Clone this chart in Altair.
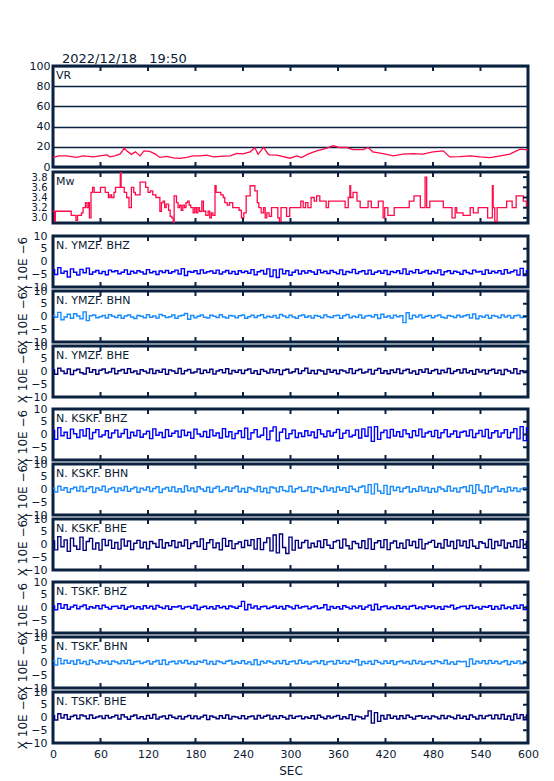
import altair as alt
import pandas as pd

FONT = "DejaVu Sans"
FRAME = "#0b2140"
TEXT = "#0b1a33"
RED = "#ff0a4a"
COL_Z = "#0000ff"
COL_N = "#1a8cff"
COL_E = "#000080"
W = 475

X_TICKS_ALL = [0, 60, 120, 180, 240, 300, 360, 420, 480, 540, 600]
X_TICKS_IN = [60, 120, 180, 240, 300, 360, 420, 480, 540]

VR_T = [0, 7, 17, 30, 38, 51, 59, 68, 72, 78, 85, 90, 93, 99, 104, 110, 115, 122, 129, 135,
        144, 152, 160, 169, 177, 186, 194, 203, 211, 224, 232, 240, 249, 255, 259, 266, 272,
        274, 283, 287, 299, 308, 314, 322, 333, 344, 354, 362, 371, 379, 392, 398, 404, 417,
        430, 442, 455, 467, 480, 493, 501, 514, 527, 539, 552, 565, 577, 590, 600]
VR_V = [9.3, 11, 11, 9.5, 11, 10, 11, 12, 10, 11, 13, 18.7, 16, 12.5, 15, 11, 16, 15.5, 13, 9.5,
        10.5, 9, 8.5, 9.5, 11, 11, 11.7, 10, 10.5, 11, 13.5, 13, 15, 19, 12.5, 19.5, 12.5,
        12, 11.7, 11, 8.7, 11, 9.3, 12.7, 16, 18.3, 21, 19.3, 19.3, 17.3, 17.3, 19.3, 15, 13.3,
        11, 12.7, 13.3, 12.7, 15, 16, 10, 10.3, 11, 10, 9.3, 11, 12.7, 17.7, 17]

MW_T = [0, 2, 3, 23, 29, 31, 36, 38, 41, 43, 45, 46, 48, 50, 52, 58, 60, 66, 70, 72, 74, 77, 79,
        85, 86, 90, 93, 96, 99, 102, 104, 110, 117, 120, 123, 126, 130, 135, 137, 139, 141, 143,
        146, 148, 150, 152, 153, 156, 158, 160, 162, 164, 166, 168, 170, 172, 174, 177, 179, 181,
        183, 185, 188, 190, 193, 196, 198, 200, 202, 204.6, 206, 212, 215, 217, 220, 223, 227,
        232, 235, 238, 241, 244, 249, 255, 258, 260, 263, 266, 268, 270, 273, 276, 280, 284, 286,
        288, 291, 295, 299, 313, 316, 319, 322, 326, 330, 333, 337, 345, 348, 369, 373, 375, 376,
        379, 384, 388, 398, 402, 411, 417, 419, 423, 431, 450, 456, 464, 470, 472, 476, 493, 504,
        508, 510, 518, 527, 531, 537, 549, 555, 556, 558, 561, 573, 580, 585, 594, 598, 600]
MW_V = [3.13, 2.93, 3.13, 3.05, 2.95, 3.05, 3.1, 3.2, 3.3, 3.2, 3.3, 3.0, 3.5, 3.6, 3.5, 3.5, 3.6,
        3.5, 3.4, 3.45, 3.4, 3.5, 3.6, 3.9, 3.6, 3.5, 3.4, 3.2, 3.6, 3.5, 3.45, 3.7, 3.6, 3.5,
        3.53, 3.45, 3.4, 3.13, 3.3, 3.33, 3.2, 3.27, 3.15, 3.03, 3.0, 2.91, 3.43, 3.3, 3.2, 3.25,
        3.15, 3.25, 3.2, 3.3, 3.33, 3.25, 3.2, 3.1, 3.2, 3.1, 3.2, 3.13, 3.33, 3.13, 3.05, 3.13,
        3.0, 3.1, 3.05, 3.63, 3.5, 3.45, 3.4, 3.3, 3.25, 3.3, 3.2, 3.2, 3.15, 3.0, 3.1, 3.43,
        3.63, 3.53, 3.3, 3.2, 3.1, 3.2, 3.0, 3.1, 3.03, 3.2, 3.2, 3.0, 2.93, 3.2, 3.2, 3.03, 3.2,
        3.33, 3.2, 3.3, 3.2, 3.4, 3.33, 3.43, 3.33, 3.2, 3.33, 3.2, 3.4, 3.63, 3.4, 3.5, 3.33,
        3.2, 3.33, 3.2, 3.33, 3.0, 3.2, 3.05, 3.2, 3.33, 3.43, 3.2, 3.8, 3.2, 3.33, 3.2, 3.0,
        3.2, 3.1, 3.05, 3.2, 3.1, 3.2, 3.0, 3.63, 3.2, 2.93, 3.2, 3.33, 3.2, 3.43, 3.33, 3.2, 3.2]

T_SEIS = list(range(0, 601, 4))

YMZF_BHZ = [-3.2, -5.1, -2.4, -4.6, -3.8, -6.1, -2.9, -4.2, -5.3, -3.1,
            -4.4, -2.6, -5.0, -4.1, -3.5, -4.7, -3.9, -5.2, -3.4, -4.0,
            -3.6, -4.8, -4.2, -3.3, -5.0, -3.8, -4.5, -3.6, -4.1, -4.9,
            -3.2, -4.4, -3.9, -5.1, -3.7, -4.3, -3.5, -4.6, -4.0, -3.4,
            -4.9, -2.8, -5.5, -3.9, -4.2, -3.6, -4.8, -3.3, -4.5, -4.0,
            -3.7, -4.6, -3.4, -4.9, -4.1, -3.5, -4.7, -3.9, -5.0, -3.6,
            -4.3, -3.8, -4.6, -3.2, -5.2, -4.0, -3.5, -4.9, -2.9, -5.9,
            -3.3, -6.3, -3.0, -4.8, -3.6, -5.4, -4.2, -3.4, -4.9, -3.7,
            -4.5, -3.6, -4.1, -5.0, -3.3, -4.4, -3.8, -4.7, -3.5, -4.2,
            -4.8, -3.3, -5.1, -3.9, -4.3, -3.1, -4.7, -4.0, -3.6, -4.9,
            -3.4, -5.0, -4.2, -3.7, -4.6, -3.5, -5.1, -3.9, -4.3, -3.6,
            -4.7, -2.9, -5.0, -3.8, -4.4, -3.2, -4.6, -4.1, -3.5, -4.8,
            -3.9, -4.5, -3.3, -5.2, -4.0, -3.6, -4.7, -3.8, -4.2, -5.0,
            -3.5, -4.3, -4.8, -3.4, -4.1, -3.9, -5.0, -3.3, -4.6, -3.8,
            -4.4, -3.6, -4.9, -3.2, -4.5, -4.0, -3.4, -5.3, -2.7, -5.5,
            -3.6]
YMZF_BHN = [0.4, -0.3, 1.6, -1.3, -0.2, 0.9, -0.7, 1.1, 0.2, -0.9,
            1.8, -1.6, 0.3, 0.6, -0.5, -0.1, 0.4, -0.6, 0.7, 0.1,
            -0.4, 0.5, -0.7, 0.2, 0.6, -0.2, -0.8, 0.4, 0.1, -0.5,
            0.7, -0.3, 0.2, -0.6, 0.8, 0.3, -0.4, -0.1, 0.6, -0.7,
            0.2, 0.5, 1.2, -1.1, 0.4, -0.5, 0.1, 0.6, -0.3, -0.6,
            0.5, 0.1, -0.4, 0.7, -0.2, -0.6, 0.4, 0.2, -0.5, 0.3,
            0.6, -0.7, -0.1, 0.5, -0.4, 0.3, 0.7, -0.5, 0.1, -0.3,
            0.4, -0.6, 0.8, 0.2, -0.4, 0.5, -0.2, -0.7, 0.3, 0.6,
            -0.3, 0.2, -0.6, 0.4, 0.1, -0.5, 0.6, -0.1, -0.4, 0.3,
            0.5, -0.7, 0.3, 0.8, -0.5, 0.1, -0.3, 0.6, -0.6, 0.2,
            0.4, -0.2, 0.7, -0.8, 0.9, -0.3, 0.2, -0.6, 0.5, -0.1,
            0.3, -2.4, 1.5, -0.9, 0.5, -0.2, 0.6, -0.5, 0.1, 0.4,
            -0.5, 0.2, 0.6, -0.3, -0.6, 0.4, 0.1, -0.4, 0.5, -0.2,
            0.3, 0.7, -0.6, 1.0, -0.9, 0.2, -0.3, 0.5, -0.7, 0.4,
            0.1, -0.5, 0.6, -0.2, 0.4, -0.6, 0.3, 0.5, -0.4, 0.2,
            -0.2]
YMZF_BHE = [0.6, -1.1, 1.3, 0.2, -0.8, 1.0, -1.2, 0.4, 0.9, -0.5,
            -1.0, 1.4, -0.3, 0.7, -1.1, 0.5, 1.0, -0.6, -0.2, 1.2,
            -0.9, 0.3, 0.8, -0.7, 1.1, -0.4, 0.2, -1.0, 0.7, 0.1,
            -0.6, 1.0, -0.8, 0.4, -0.3, 0.9, -1.1, 0.6, 0.2, -0.7,
            1.2, -0.9, 0.3, 0.8, -0.6, -0.2, 1.0, -0.8, 0.5, -0.4,
            0.9, -1.0, 0.2, 0.7, -0.5, 1.1, -0.9, 0.4, -0.3, 0.6,
            -0.8, 0.5, 1.0, -0.7, 0.3, -1.1, 0.8, 0.1, -0.6, 0.9,
            -0.4, 0.7, -1.2, 0.5, 0.9, -0.6, -0.1, 1.0, -0.8, 0.3,
            1.3, -0.7, 0.4, -0.9, 0.6, 0.2, -1.0, 0.8, -0.3, 0.5,
            -0.9, 0.6, 0.2, -0.5, 1.1, -0.8, 0.4, 0.9, -0.6, -0.2,
            0.8, -1.0, 0.5, 1.2, -0.7, 0.3, -0.9, 0.6, -0.4, 1.0,
            -0.8, 0.4, 0.9, -0.6, 0.2, -1.1, 0.7, -0.3, 1.0, -0.7,
            0.3, 0.8, -0.9, 0.5, -0.4, 1.2, -0.8, 0.1, 0.7, -0.6,
            1.0, -0.5, 0.3, -1.1, 0.8, -0.2, 0.6, -0.9, 0.4, 0.9,
            -0.7, 0.5, -1.2, 0.8, 0.2, -0.6, 1.1, -0.9, 0.3, -0.4,
            0.2]
KSKF_BHZ = [1.6, -1.9, 2.7, -0.5, 0.9, -1.5, 2.1, 0.3, -1.2, 1.8,
            -0.6, 2.3, -1.7, 0.8, 1.9, -0.9, -0.2, 1.5, -1.3, 0.6,
            1.7, -1.0, 0.4, 2.0, -1.4, 0.9, -0.5, 1.6, -1.1, 0.2,
            1.3, -1.6, 2.2, -0.3, 0.8, -1.2, 1.9, -0.7, 0.5, 1.4,
            -1.0, 1.7, -0.4, 0.9, -1.5, 2.1, 0.2, -0.8, 1.2, -1.1,
            1.8, -0.5, 0.6, -1.4, 2.3, -0.9, 1.1, -1.6, 0.4, 1.5,
            -1.2, 2.5, -1.8, 0.7, 1.9, -1.0, -0.3, 2.6, -2.0, 1.4,
            3.0, -2.5, 0.9, 2.2, -1.6, 0.3, 1.7, -1.2, 0.6, -0.8,
            1.5, -0.4, 1.0, -1.3, 1.9, 0.2, -0.9, 1.4, -0.6, 0.8,
            2.0, -1.5, 0.5, 1.6, -0.9, -0.3, 1.8, -1.4, 2.2, -0.7,
            2.9, -2.7, 3.1, -1.9, 0.8, 1.7, -1.3, 2.0, -0.6, 1.1,
            -0.9, 1.8, 0.3, -1.2, 1.5, -0.5, 2.1, -1.0, 0.6, 1.2,
            -0.8, 1.6, -1.3, 0.7, 1.9, -0.9, 0.2, 1.4, -1.1, 0.9,
            1.3, -0.6, 1.8, -1.2, 0.4, 1.6, -0.8, 2.0, -1.4, 0.7,
            1.5, -1.0, 0.6, 1.9, -1.3, 0.8, 2.3, -1.7, 3.1, -2.4,
            2.6]
KSKF_BHN = [0.5, -1.0, 1.3, -0.2, 0.7, -1.1, 0.3, 0.9, -0.6, 1.2,
            -0.8, 0.4, 1.1, -1.2, 0.6, -0.3, 1.3, -0.9, 0.2, 0.8,
            -1.0, 0.6, -0.4, 1.2, -0.7, 0.3, 0.9, -1.1, 0.5, -0.2,
            1.0, -0.8, 0.4, 1.1, -1.2, 0.2, 0.8, -0.6, 1.0, -0.9,
            0.3, -1.0, 1.4, -0.5, 0.6, -0.9, 1.1, 0.2, -0.7, 0.9,
            -1.1, 0.5, 1.2, -0.8, -0.2, 1.0, -0.7, 0.6, 1.3, -0.9,
            0.4, -1.1, 0.8, 0.2, -0.6, 1.2, -0.9, 0.5, -1.3, 1.0,
            0.6, -0.9, 1.1, -0.4, -0.8, 1.3, -1.0, 0.3, 0.9, -0.7,
            -0.5, 1.1, -1.2, 0.7, 0.2, -0.8, 1.2, -0.4, 0.6, -1.0,
            1.0, -0.3, 0.7, -1.1, 1.3, 0.1, -0.8, 0.9, 1.4, -1.2,
            1.9, -1.7, 2.2, -0.6, -1.5, 1.6, -1.9, 1.2, -0.4, 0.9,
            -0.9, 0.5, 1.1, -1.0, 0.3, -0.7, 1.2, -0.5, 0.8, -1.1,
            0.4, -0.9, 1.0, 0.2, -0.7, 1.3, -0.6, 0.5, -1.0, 0.7,
            1.1, -0.8, 1.6, -1.5, 1.9, -0.4, -1.3, 1.4, -1.0, 0.6,
            1.2, -0.7, 0.3, -1.0, 0.9, -0.5, 0.6, -0.8, 0.2, 0.7,
            -0.3]
KSKF_BHE = [1.4, -2.1, 3.1, -0.9, 1.8, -2.7, 2.5, -0.6, -1.9, 2.9,
            -2.3, 1.2, 2.4, -1.8, 0.6, -2.2, 2.0, -0.4, 1.7, -1.5,
            0.8, -1.8, 2.1, -0.6, 1.4, -2.0, 0.5, 1.6, -1.3, 0.9,
            -1.7, 1.2, 0.4, -1.1, 1.9, -1.4, 0.7, -0.5, 1.5, -1.2,
            0.9, -0.6, 1.8, -1.6, 0.4, 1.1, -0.8, 2.2, -1.9, 0.7,
            1.9, -1.3, 0.6, -2.1, 2.4, -0.7, 1.5, -1.6, 0.3, 1.0,
            -1.2, 1.6, -0.4, 1.9, -1.8, 2.3, -2.0, 0.8, 2.6, -2.5,
            3.7, -3.3, 4.1, -1.2, -3.5, 2.9, -2.2, 1.6, -1.4, 0.8,
            1.6, -1.3, 0.5, -0.9, 1.4, -1.2, 1.9, -0.3, -1.5, 1.1,
            1.6, -1.4, 2.1, -0.5, -1.7, 1.2, 0.4, -1.3, 1.5, -1.6,
            2.2, -1.9, 0.7, 1.5, -1.2, 1.9, -2.0, 0.6, 1.4, -1.3,
            0.5, -1.5, 1.8, -0.4, 1.2, -1.3, 2.0, -1.7, 0.3, 0.9,
            1.6, -1.1, 0.4, -1.4, 1.9, -0.6, 1.2, -1.6, 1.7, -0.5,
            1.3, -1.3, 1.8, -0.7, -1.5, 1.1, 0.5, -1.2, 2.0, -1.6,
            1.2, -0.4, 1.7, -1.4, 0.6, -0.9, 1.5, -1.2, 1.9, -1.5,
            1.2]
TSKF_BHZ = [0.6, -0.9, 1.5, -0.3, 1.1, -0.7, 0.2, 0.9, -0.5, 0.4,
            1.0, -0.6, 0.3, -0.2, 0.7, -0.5, 0.9, 0.1, -0.6, 0.4,
            0.5, -0.3, 0.8, -0.7, 0.2, 0.6, -0.4, 0.3, -0.6, 0.7,
            -0.2, 0.5, -0.6, 0.8, 0.1, -0.4, 0.6, -0.7, 0.3, 0.2,
            0.6, -0.5, 0.2, 0.4, -0.3, 0.9, -0.8, 0.1, 0.5, -0.4,
            0.3, -0.6, 0.7, -0.1, 0.4, -0.5, 0.6, 0.2, -0.3, 0.5,
            2.4, -0.9, 1.2, -0.2, 0.6, -0.6, 0.3, 0.5, -0.4, 0.1,
            0.6, -0.3, 0.4, -0.6, 0.7, 0.2, -0.5, 0.8, -0.2, 0.3,
            0.5, -0.5, 0.2, 0.6, -0.4, -0.1, 1.1, -0.9, 0.4, -0.3,
            0.3, -0.6, 0.7, 0.1, -0.5, 0.5, -0.2, 0.6, -0.7, 0.2,
            0.9, -1.0, 1.3, -0.8, 0.3, 0.6, -0.4, 0.2, -0.5, 0.7,
            -0.3, 0.4, -0.6, 0.5, 0.8, -0.4, 0.2, -0.5, 0.6, 0.1,
            0.6, -0.4, 0.3, -0.7, 0.5, 0.2, 0.9, -0.6, -0.1, 0.4,
            0.5, -0.5, 0.8, -0.3, 0.2, -0.6, 0.4, 0.1, 0.7, -0.7,
            0.4, -0.6, 0.9, -0.4, 0.2, -0.5, 0.8, -0.3, 1.0, -0.8,
            0.4]
TSKF_BHN = [0.7, -1.0, 1.6, -0.5, 0.9, -0.3, 0.6, -0.7, 1.0, -0.4,
            0.4, -0.8, 0.9, 0.1, -0.6, 0.7, -0.2, 0.5, -0.7, 0.6,
            0.2, -0.5, 0.7, -0.4, 0.9, -0.7, 0.3, 0.5, -0.4, 0.1,
            0.6, -0.6, 0.3, 0.8, -0.7, 1.0, -0.8, 0.2, 0.5, -0.5,
            0.6, -0.2, 0.8, -0.5, 0.3, -0.7, 0.5, 0.1, 0.9, -0.6,
            0.4, -0.7, 0.6, 0.2, -0.4, 0.5, 0.8, -0.6, 0.3, -0.3,
            0.7, -0.5, 0.2, -0.8, 1.1, -0.9, 0.5, -0.2, 0.6, 0.1,
            -0.5, 0.6, -0.4, 0.8, -0.7, 0.3, 0.6, -0.5, 0.9, -0.3,
            0.4, -0.6, 0.2, 0.5, -0.4, 0.7, -0.8, 0.3, 0.5, -0.6,
            0.8, -0.3, 0.5, -0.5, 0.6, 0.2, 1.1, -1.0, 0.4, -0.4,
            0.5, -0.7, 0.8, 0.1, -0.5, 0.6, -0.3, 0.7, -0.8, 0.3,
            0.6, -0.2, 0.4, -0.6, 0.8, -0.4, 0.5, -0.7, 0.2, 0.4,
            -0.5, 0.7, 0.3, -0.4, 0.9, -0.6, 0.2, -0.7, 0.5, 0.3,
            0.4, -1.6, 1.4, -0.6, 0.5, -0.2, 0.7, -0.5, 0.8, -0.3,
            0.5, -0.5, 0.2, 0.7, -0.8, 0.4, -0.3, 0.6, -0.5, 0.4,
            0.3]
TSKF_BHE = [0.7, -1.0, 1.5, -0.2, 1.1, -0.7, 0.4, 0.9, -0.5, 1.0,
            0.6, -0.5, 1.0, -0.3, 0.2, 0.6, -0.4, 0.8, -0.2, 0.3,
            0.9, -0.6, 1.1, 0.2, -0.7, 0.5, 1.0, -0.4, 0.3, -0.6,
            0.8, -0.3, 1.2, -0.6, 0.2, 0.6, -0.5, 0.9, 0.1, -0.4,
            0.5, -0.6, 0.3, 0.8, -0.4, 0.6, -0.5, 0.2, 0.9, -0.8,
            0.6, 0.1, -0.5, 0.7, -0.3, 1.0, -0.6, 0.4, 0.2, -0.4,
            0.7, -0.5, 0.3, 0.6, -0.6, 0.8, -0.2, 0.5, 0.9, -0.6,
            0.5, -0.4, 0.7, 0.1, -0.6, 0.8, -0.3, 0.4, 0.6, -0.5,
            0.2, -0.3, 0.7, -0.6, 0.9, 0.1, -0.5, 0.6, -0.2, 0.4,
            0.8, -0.6, 0.3, -0.4, 1.1, -0.9, 0.5, 0.2, -0.5, 0.6,
            2.6, -2.2, 1.9, -1.5, 0.8, -0.6, 1.0, -0.3, 0.5, -0.6,
            0.7, -0.4, 0.9, 0.1, -0.6, 0.5, 0.7, -0.3, 0.4, -0.5,
            0.6, 0.2, -0.5, 0.8, -0.4, 0.6, 0.1, -0.5, 0.9, -0.3,
            0.5, -0.7, 1.0, 0.2, -0.6, 0.8, -0.4, 0.6, 0.9, -0.5,
            1.0, -0.5, 1.2, -0.7, 0.6, -1.0, 1.3, -0.4, 1.1, -0.9,
            1.0]

SEIS_LIMITS = [-10, -5, 0, 5, 10]
SEIS_INNER = [-5, 0, 5]
MW_TICKS = [3.0, 3.2, 3.4, 3.6, 3.8]
VR_TICKS = [0, 20, 40, 60, 80, 100]


def x_enc(bottom):
    if bottom:
        axis = alt.Axis(values=X_TICKS_ALL, title="SEC", ticks=False, domain=False, grid=False,
                        labelFontSize=11, labelPadding=5, labelFlush=False, titleFontSize=12,
                        titleFontWeight="normal", titlePadding=6, labelFont=FONT, titleFont=FONT,
                        labelColor=TEXT, titleColor=TEXT)
    else:
        axis = None
    return alt.X("t:Q", scale=alt.Scale(domain=[0, 600], nice=False, zero=False), axis=axis)


def panel(df_line, ydom, yaxis, right_vals, color, label, height, bottom, interp, sw):
    xe = x_enc(bottom)
    ye = alt.Y("v:Q", scale=alt.Scale(domain=ydom, nice=False, zero=False), axis=yaxis)
    line = alt.Chart(df_line).mark_line(color=color, strokeWidth=sw, interpolate=interp,
                                        clip=True).encode(x=xe, y=ye)
    tdf = pd.DataFrame({"t": X_TICKS_IN})
    top_t = alt.Chart(tdf).mark_rule(color=FRAME, strokeWidth=2).encode(
        x=xe, y=alt.value(0), y2=alt.value(5))
    bot_t = alt.Chart(tdf).mark_rule(color=FRAME, strokeWidth=2).encode(
        x=xe, y=alt.value(height - 5), y2=alt.value(height))
    layers = [line, top_t, bot_t]
    if right_vals:
        rdf = pd.DataFrame({"v": right_vals})
        layers.append(alt.Chart(rdf).mark_rule(color=FRAME, strokeWidth=2).encode(
            y=ye, x=alt.value(W - 5), x2=alt.value(W)))
    txt = alt.Chart(pd.DataFrame({"label": [label]})).mark_text(
        align="left", baseline="top", font=FONT, fontSize=11, color=TEXT).encode(
        x=alt.value(3), y=alt.value(4), text="label:N")
    layers.append(txt)
    return alt.layer(*layers).properties(width=W, height=height)


def spacer(h):
    return alt.Chart(pd.DataFrame({"t": [0]})).mark_point(opacity=0).encode(
        x=alt.X("t:Q", axis=None)).properties(
        width=W, height=h, view=alt.ViewBackground(stroke="transparent", strokeWidth=0))


def seis_axis(height):
    return alt.Axis(values=SEIS_LIMITS, ticks=False, domain=False, grid=False, labelFontSize=11,
                    labelPadding=6, labelFlush=False, labelOverlap=False, labelFont=FONT,
                    labelColor=TEXT, title="X 10E \u22126", titleFont=FONT, titleFontSize=12,
                    titleFontWeight="normal", titleColor=TEXT, titleAngle=270, titleX=-27,
                    titleY=height / 2 + 3, titleAlign="center", titleBaseline="alphabetic")


vr_df = pd.DataFrame({"t": VR_T, "v": VR_V})
vr_axis = alt.Axis(values=VR_TICKS, ticks=False, domain=False, grid=True, gridColor=FRAME,
                   gridWidth=1.5, gridOpacity=1, labelFontSize=11, labelPadding=3,
                   labelFlush=False, labelFont=FONT, labelColor=TEXT, title=None)
vr = panel(vr_df, [0, 100], vr_axis, None, RED, "VR", 101, False, "linear", 1.3).properties(
    title=alt.TitleParams(text="2022/12/18\u00a0\u00a0\u00a019:50", anchor="start", fontSize=13,
                          fontWeight="normal", font=FONT, color=TEXT, dx=9, offset=-6,
                          frame="group"))

mw_df = pd.DataFrame({"t": MW_T, "v": MW_V})
mw_axis = alt.Axis(values=MW_TICKS, format=".1f", ticks=False, domain=False, grid=False,
                   labelFontSize=10, labelPadding=6, labelFlush=False, labelOverlap=False,
                   labelFont=FONT, labelColor=TEXT, title=None)
mw = panel(mw_df, [2.9, 3.9], mw_axis, MW_TICKS, RED, "Mw", 51, False, "step-after", 1.3)

traces = [
    ("N. YMZF. BHZ", YMZF_BHZ, COL_Z), ("N. YMZF. BHN", YMZF_BHN, COL_N),
    ("N. YMZF. BHE", YMZF_BHE, COL_E), ("N. KSKF. BHZ", KSKF_BHZ, COL_Z),
    ("N. KSKF. BHN", KSKF_BHN, COL_N), ("N. KSKF. BHE", KSKF_BHE, COL_E),
    ("N. TSKF. BHZ", TSKF_BHZ, COL_Z), ("N. TSKF. BHN", TSKF_BHN, COL_N),
    ("N. TSKF. BHE", TSKF_BHE, COL_E),
]
SH = 51
GAPS_AFTER = [4, 4, 12, 4, 4, 12, 4, 4]
items = [vr, spacer(5), mw, spacer(13)]
for i, (name, vals, col) in enumerate(traces):
    df = pd.DataFrame({"t": T_SEIS, "v": vals})
    items.append(panel(df, [-10, 10], seis_axis(SH), SEIS_INNER, col, name, SH, i == 8,
                       "step", 1.4))
    if i < 8:
        items.append(spacer(GAPS_AFTER[i]))

chart = alt.vconcat(*items, spacing=0, bounds="flush", background="white").properties(
    padding={"left": 6, "top": 43, "right": 5, "bottom": 0}
).configure_view(stroke=FRAME, strokeWidth=3)

chart.save("out.html", embed_options={"renderer": "svg", "actions": False})
